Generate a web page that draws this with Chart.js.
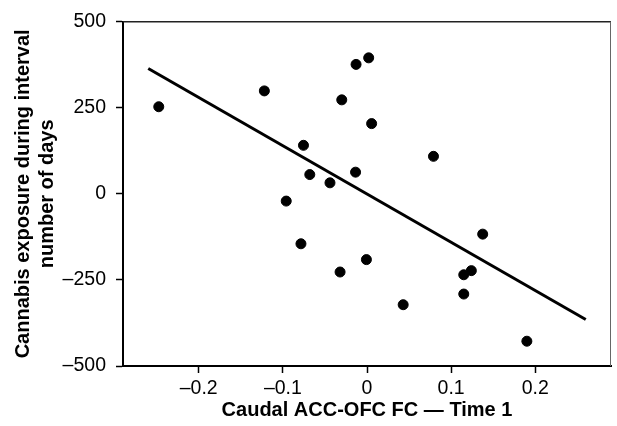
<!DOCTYPE html>
<html>
<head>
<meta charset="utf-8">
<script src="https://cdn.jsdelivr.net/npm/chart.js@4"></script>
<style>
  html, body { margin: 0; padding: 0; background: #fff; }
  #wrap { width: 617px; height: 426px; }
</style>
</head>
<body>
<div id="wrap"><canvas id="scatterChart" width="617" height="426"></canvas></div>
<script>
// ===== Data =====
const fcValues = [-0.2475, -0.122, -0.0755, -0.068, -0.096, -0.013, 0.002, -0.030, 0.0055, 0.079,
  -0.044, -0.0136, -0.0785, 0.1375, -0.0007, -0.032, 0.115, 0.124, 0.115, 0.043, 0.190];
const exposureDays = [253, 299, 141, 56, -21, 376, 395, 273, 204, 109,
  32, 63, -145, -117, -191, -227, -235, -223, -291, -322, -428];

// regression line end points
const fitX = [-0.26, 0.26];
const fitY = [364, -365];

const xTicks = [-0.2, -0.1, 0, 0.1, 0.2];
const yTicks = [-500, -250, 0, 250, 500];

const tickFont = { family: "'Liberation Sans', Arial, sans-serif", size: 19.5 };
const titleFont = { family: "'Liberation Sans', Arial, sans-serif", size: 20, weight: "bold", lineHeight: 1.2 };

// draws the top and right edges of the frame
const frameBox = {
  id: "frameBox",
  afterDraw(chart) {
    const { ctx, chartArea: a } = chart;
    ctx.save();
    ctx.strokeStyle = "#222";
    ctx.lineWidth = 1.5;
    ctx.beginPath();
    ctx.moveTo(a.left, a.top);
    ctx.lineTo(a.right, a.top);
    ctx.stroke();
    ctx.strokeStyle = "#666";
    ctx.lineWidth = 1;
    ctx.beginPath();
    ctx.moveTo(a.right - 0.5, a.top);
    ctx.lineTo(a.right - 0.5, a.bottom);
    ctx.stroke();
    ctx.restore();
  }
};

const ctx = document.getElementById("scatterChart").getContext("2d");
new Chart(ctx, {
  type: "scatter",
  data: {
    datasets: [
      {
        label: "Subjects",
        data: fcValues.map((x, i) => ({ x: x, y: exposureDays[i] })),
        backgroundColor: "#000",
        borderColor: "#000",
        pointRadius: 5,
        pointHoverRadius: 5
      },
      {
        type: "line",
        label: "Fit",
        data: fitX.map((x, i) => ({ x: x, y: fitY[i] })),
        borderColor: "#000",
        borderWidth: 3,
        pointRadius: 0,
        fill: false
      }
    ]
  },
  options: {
    responsive: false,
    animation: false,
    layout: { padding: { top: 20, right: 1, left: 0, bottom: 0 } },
    plugins: { legend: { display: false }, tooltip: { enabled: false } },
    scales: {
      x: {
        type: "linear",
        min: -0.29,
        max: 0.29,
        afterBuildTicks: (s) => { s.ticks = xTicks.map((v) => ({ value: v })); },
        afterFit: (s) => { s.height = 60; },
        grid: { drawOnChartArea: false, drawTicks: true, tickLength: 7, color: "#000", tickWidth: 1.5 },
        border: { color: "#000", width: 2 },
        ticks: {
          color: "#000",
          font: tickFont,
          padding: 4,
          maxRotation: 0,
          callback: (v) => (v < 0 ? "\u2013" + Math.abs(v) : String(v))
        },
        title: { display: true, text: "Caudal ACC-OFC FC \u2014 Time 1", color: "#000", font: titleFont, padding: { top: 0, bottom: 4 } }
      },
      y: {
        min: -500,
        max: 500,
        afterBuildTicks: (s) => { s.ticks = yTicks.map((v) => ({ value: v })); },
        afterFit: (s) => { s.width = 123; },
        grid: { drawOnChartArea: false, drawTicks: true, tickLength: 7, color: "#000", tickWidth: 1.5 },
        border: { color: "#000", width: 2 },
        ticks: {
          color: "#000",
          font: tickFont,
          padding: 10,
          callback: (v) => (v < 0 ? "\u2013" + Math.abs(v) : String(v))
        },
        title: {
          display: true,
          text: ["Cannabis exposure during interval", "number of days"],
          color: "#000",
          font: titleFont,
          padding: { top: 11, bottom: 0 }
        }
      }
    }
  },
  plugins: [frameBox]
});
</script>
</body>
</html>
